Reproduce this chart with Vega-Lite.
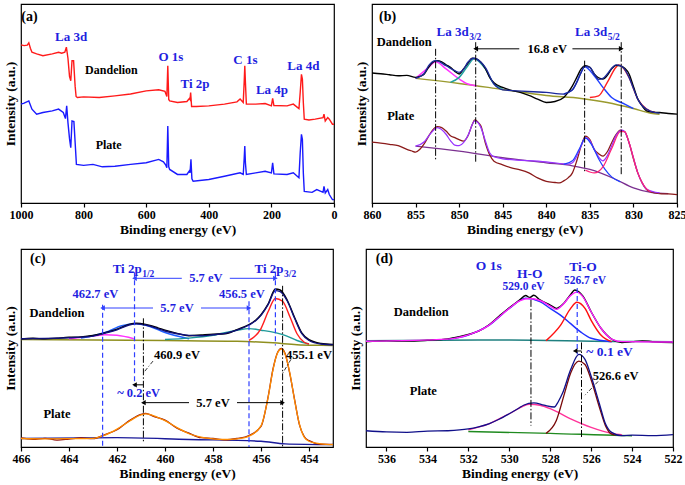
{
"$schema": "https://vega.github.io/schema/vega-lite/v6.json",
"background": "white",
"padding": {"left": 2, "top": 3, "right": 2, "bottom": 0},
"config": {
  "font": "Liberation Serif",
  "view": {"stroke": "black", "strokeWidth": 1.2},
  "axis": {"labelFont": "Liberation Serif", "labelFontWeight": "bold", "labelFontSize": 12, "labelColor": "black", "titleFont": "Liberation Serif", "titleFontWeight": "bold", "titleFontSize": 13.5, "titleColor": "black", "grid": false, "domain": false, "tickColor": "black", "tickWidth": 1.2, "labelFlush": false, "labelOverlap": false},
  "text": {"font": "Liberation Serif", "fontWeight": "bold", "baseline": "middle"}
},
"datasets": {
  "a": [
    {"x":1000,"y":78.7,"s":"D"},{"x":990,"y":78.3,"s":"D"},{"x":980,"y":78.5,"s":"D"},{"x":975,"y":79.7,"s":"D"},{"x":970,"y":77,"s":"D"},{"x":965,"y":75,"s":"D"},{"x":950,"y":74.2,"s":"D"},{"x":930,"y":73.3,"s":"D"},{"x":900,"y":74.2,"s":"D"},{"x":880,"y":75,"s":"D"},{"x":870,"y":74.5,"s":"D"},{"x":860,"y":75,"s":"D"},{"x":855,"y":77.5,"s":"D"},{"x":850,"y":72,"s":"D"},{"x":845,"y":63,"s":"D"},{"x":841,"y":60.8,"s":"D"},{"x":837,"y":70.8,"s":"D"},{"x":832,"y":70.8,"s":"D"},{"x":827,"y":58,"s":"D"},{"x":824,"y":53,"s":"D"},{"x":820,"y":52.5,"s":"D"},{"x":800,"y":52.8,"s":"D"},{"x":750,"y":52.5,"s":"D"},{"x":700,"y":53.3,"s":"D"},{"x":650,"y":54.2,"s":"D"},{"x":600,"y":55.8,"s":"D"},{"x":560,"y":56.3,"s":"D"},{"x":540,"y":55.5,"s":"D"},{"x":534,"y":53,"s":"D"},{"x":531,"y":68.3,"s":"D"},{"x":528,"y":51.5,"s":"D"},{"x":525,"y":50.8,"s":"D"},{"x":500,"y":50,"s":"D"},{"x":470,"y":50.5,"s":"D"},{"x":462,"y":52,"s":"D"},{"x":460,"y":51.5,"s":"D"},{"x":458,"y":55,"s":"D"},{"x":455,"y":48,"s":"D"},{"x":440,"y":48,"s":"D"},{"x":400,"y":48.3,"s":"D"},{"x":350,"y":49.2,"s":"D"},{"x":310,"y":50.3,"s":"D"},{"x":300,"y":51.7,"s":"D"},{"x":290,"y":50,"s":"D"},{"x":287,"y":60,"s":"D"},{"x":285,"y":68.3,"s":"D"},{"x":283,"y":60,"s":"D"},{"x":280,"y":49.2,"s":"D"},{"x":250,"y":49.2,"s":"D"},{"x":220,"y":49.5,"s":"D"},{"x":200,"y":48.3,"s":"D"},{"x":196,"y":52,"s":"D"},{"x":192,"y":48.5,"s":"D"},{"x":150,"y":48.3,"s":"D"},{"x":130,"y":49.2,"s":"D"},{"x":112,"y":47,"s":"D"},{"x":108,"y":55,"s":"D"},{"x":104,"y":64,"s":"D"},{"x":101,"y":61.7,"s":"D"},{"x":98,"y":50,"s":"D"},{"x":95,"y":41.7,"s":"D"},{"x":80,"y":41.3,"s":"D"},{"x":60,"y":41.7,"s":"D"},{"x":35,"y":42.5,"s":"D"},{"x":32,"y":44.2,"s":"D"},{"x":28,"y":40.8,"s":"D"},{"x":20,"y":42.5,"s":"D"},{"x":15,"y":41.7,"s":"D"},{"x":5,"y":39.2,"s":"D"},{"x":0,"y":39.2,"s":"D"},
    {"x":1000,"y":49.2,"s":"P"},{"x":990,"y":49.7,"s":"P"},{"x":975,"y":50.8,"s":"P"},{"x":965,"y":46.7,"s":"P"},{"x":950,"y":44.2,"s":"P"},{"x":930,"y":45,"s":"P"},{"x":900,"y":45.8,"s":"P"},{"x":880,"y":46.7,"s":"P"},{"x":865,"y":45,"s":"P"},{"x":858,"y":42,"s":"P"},{"x":854,"y":48.3,"s":"P"},{"x":850,"y":40,"s":"P"},{"x":845,"y":32,"s":"P"},{"x":841,"y":27.5,"s":"P"},{"x":837,"y":40.8,"s":"P"},{"x":831,"y":40.5,"s":"P"},{"x":827,"y":30,"s":"P"},{"x":823,"y":19.2,"s":"P"},{"x":800,"y":18.7,"s":"P"},{"x":770,"y":19.2,"s":"P"},{"x":740,"y":18,"s":"P"},{"x":700,"y":18.3,"s":"P"},{"x":650,"y":19.2,"s":"P"},{"x":600,"y":20,"s":"P"},{"x":560,"y":21.7,"s":"P"},{"x":545,"y":20.5,"s":"P"},{"x":538,"y":19,"s":"P"},{"x":534,"y":17.5,"s":"P"},{"x":531,"y":38.3,"s":"P"},{"x":528,"y":18,"s":"P"},{"x":525,"y":16.7,"s":"P"},{"x":500,"y":14.2,"s":"P"},{"x":470,"y":14.2,"s":"P"},{"x":462,"y":16,"s":"P"},{"x":460,"y":15,"s":"P"},{"x":457,"y":21.7,"s":"P"},{"x":454,"y":12,"s":"P"},{"x":450,"y":10.8,"s":"P"},{"x":400,"y":11.7,"s":"P"},{"x":350,"y":13.3,"s":"P"},{"x":300,"y":15,"s":"P"},{"x":290,"y":14.2,"s":"P"},{"x":287,"y":22,"s":"P"},{"x":285,"y":28.3,"s":"P"},{"x":283,"y":20,"s":"P"},{"x":280,"y":14.2,"s":"P"},{"x":250,"y":15,"s":"P"},{"x":220,"y":15.8,"s":"P"},{"x":200,"y":15,"s":"P"},{"x":196,"y":20,"s":"P"},{"x":192,"y":14.5,"s":"P"},{"x":150,"y":14.2,"s":"P"},{"x":130,"y":15,"s":"P"},{"x":112,"y":12.5,"s":"P"},{"x":108,"y":25,"s":"P"},{"x":104,"y":34.2,"s":"P"},{"x":101,"y":31.7,"s":"P"},{"x":98,"y":15,"s":"P"},{"x":95,"y":5.8,"s":"P"},{"x":70,"y":5.3,"s":"P"},{"x":55,"y":6.7,"s":"P"},{"x":35,"y":5.3,"s":"P"},{"x":32,"y":8.3,"s":"P"},{"x":28,"y":5,"s":"P"},{"x":20,"y":6.7,"s":"P"},{"x":15,"y":4.2,"s":"P"},{"x":5,"y":1.7,"s":"P"},{"x":0,"y":1.7,"s":"P"}
  ],
  "at": [
    {"x":973,"y":92.5,"t":"(a)","k":"p"},
    {"x":840,"y":82.5,"t":"La 3d","k":"b"},
    {"x":521,"y":72.5,"t":"O 1s","k":"b"},
    {"x":444,"y":59,"t":"Ti 2p","k":"b"},
    {"x":283,"y":71,"t":"C 1s","k":"b"},
    {"x":198,"y":56,"t":"La 4p","k":"b"},
    {"x":98,"y":68,"t":"La 4d","k":"b"},
    {"x":711,"y":66,"t":"Dandelion","k":"k"},
    {"x":720,"y":28.7,"t":"Plate","k":"k"}
  ],
  "b": [
    {"x":855,"y":62,"s":"b1"},{"x":850,"y":59.5,"s":"b1"},{"x":845,"y":56.5,"s":"b1"},{"x":840,"y":53.5,"s":"b1"},{"x":836,"y":52,"s":"b1"},{"x":833,"y":50,"s":"b1"},{"x":830,"y":47,"s":"b1"},{"x":828,"y":44.7,"s":"b1"},{"x":827,"y":44.2,"s":"b1"},
    {"x":855,"y":62,"s":"b2"},{"x":853.5,"y":67.5,"s":"b2"},{"x":852.7,"y":70.3,"s":"b2"},{"x":851.5,"y":66.7,"s":"b2"},{"x":850,"y":61.7,"s":"b2"},{"x":849,"y":59.2,"s":"b2"},{"x":848,"y":58.3,"s":"b2"},
    {"x":851,"y":60,"s":"b3"},{"x":850,"y":62.5,"s":"b3"},{"x":849,"y":68.3,"s":"b3"},{"x":848.3,"y":71.7,"s":"b3"},{"x":847,"y":66.7,"s":"b3"},{"x":846,"y":59.2,"s":"b3"},{"x":845,"y":57,"s":"b3"},
    {"x":838,"y":54.2,"s":"b4"},{"x":837,"y":56.3,"s":"b4"},{"x":836,"y":65,"s":"b4"},{"x":835.6,"y":67.8,"s":"b4"},{"x":834.5,"y":63.3,"s":"b4"},{"x":833.5,"y":57.5,"s":"b4"},{"x":832.5,"y":52.5,"s":"b4"},{"x":831,"y":49.2,"s":"b4"},{"x":830,"y":47,"s":"b4"},
    {"x":835,"y":52.5,"s":"b5"},{"x":834,"y":53.3,"s":"b5"},{"x":833,"y":60,"s":"b5"},{"x":832,"y":67.5,"s":"b5"},{"x":831.7,"y":68.7,"s":"b5"},{"x":830.5,"y":62.5,"s":"b5"},{"x":829.5,"y":51.7,"s":"b5"},{"x":828.5,"y":46.7,"s":"b5"},{"x":827.5,"y":45,"s":"b5"},
    {"x":860,"y":64.7,"s":"b6"},{"x":859,"y":64.3,"s":"b6"},{"x":858,"y":63.8,"s":"b6"},{"x":857,"y":63.3,"s":"b6"},{"x":856,"y":63.5,"s":"b6"},{"x":855,"y":62.5,"s":"b6"},{"x":854.5,"y":63,"s":"b6"},{"x":854,"y":64.2,"s":"b6"},{"x":853.5,"y":67.5,"s":"b6"},{"x":853,"y":70,"s":"b6"},{"x":852.5,"y":70.8,"s":"b6"},{"x":852,"y":70.2,"s":"b6"},{"x":851.5,"y":68.8,"s":"b6"},{"x":851,"y":67.5,"s":"b6"},{"x":850.5,"y":65.5,"s":"b6"},{"x":850,"y":64.2,"s":"b6"},{"x":849.5,"y":66.7,"s":"b6"},{"x":849,"y":69.5,"s":"b6"},{"x":848.5,"y":72,"s":"b6"},{"x":848,"y":71.7,"s":"b6"},{"x":847.5,"y":70,"s":"b6"},{"x":847,"y":67,"s":"b6"},{"x":846.5,"y":62.5,"s":"b6"},{"x":846,"y":59.8,"s":"b6"},{"x":845,"y":57.5,"s":"b6"},{"x":844,"y":56,"s":"b6"},{"x":843,"y":55,"s":"b6"},{"x":842,"y":53.5,"s":"b6"},{"x":841,"y":51.7,"s":"b6"},{"x":840,"y":50,"s":"b6"},{"x":839,"y":50.5,"s":"b6"},{"x":838,"y":52.5,"s":"b6"},{"x":837.5,"y":55,"s":"b6"},{"x":837,"y":58.3,"s":"b6"},{"x":836.5,"y":62.5,"s":"b6"},{"x":836,"y":66.7,"s":"b6"},{"x":835.5,"y":68.3,"s":"b6"},{"x":835,"y":67.5,"s":"b6"},{"x":834.5,"y":64.2,"s":"b6"},{"x":834,"y":62.3,"s":"b6"},{"x":833.5,"y":61.7,"s":"b6"},{"x":833,"y":63.5,"s":"b6"},{"x":832.5,"y":66.7,"s":"b6"},{"x":832,"y":68.5,"s":"b6"},{"x":831.5,"y":68.3,"s":"b6"},{"x":831,"y":67,"s":"b6"},{"x":830.5,"y":64.2,"s":"b6"},{"x":830,"y":58,"s":"b6"},{"x":829.5,"y":51.7,"s":"b6"},{"x":829,"y":48.3,"s":"b6"},{"x":828.5,"y":45.8,"s":"b6"},{"x":828,"y":45.3,"s":"b6"},{"x":827,"y":45,"s":"b6"},{"x":826,"y":44.5,"s":"b6"},{"x":825,"y":44.2,"s":"b6"},
    {"x":855,"y":62,"s":"b7"},{"x":854,"y":64.5,"s":"b7"},{"x":853.5,"y":68.3,"s":"b7"},{"x":852.7,"y":70.8,"s":"b7"},{"x":851.5,"y":68.3,"s":"b7"},{"x":850.5,"y":65.8,"s":"b7"},{"x":850,"y":65,"s":"b7"},{"x":849.5,"y":66.5,"s":"b7"},{"x":849,"y":70,"s":"b7"},{"x":848.3,"y":72,"s":"b7"},{"x":847.5,"y":70,"s":"b7"},{"x":847,"y":67.5,"s":"b7"},{"x":846,"y":59.2,"s":"b7"},{"x":845.5,"y":57.2,"s":"b7"},{"x":845,"y":56.3,"s":"b7"},{"x":840,"y":55,"s":"b7"},{"x":838,"y":54.2,"s":"b7"},{"x":837.5,"y":55,"s":"b7"},{"x":837,"y":56.3,"s":"b7"},{"x":836.5,"y":60,"s":"b7"},{"x":836,"y":65,"s":"b7"},{"x":835.6,"y":68,"s":"b7"},{"x":835,"y":67.5,"s":"b7"},{"x":834.5,"y":64.2,"s":"b7"},{"x":834,"y":61.5,"s":"b7"},{"x":833.5,"y":62,"s":"b7"},{"x":833,"y":64.2,"s":"b7"},{"x":832.5,"y":67,"s":"b7"},{"x":832,"y":68.7,"s":"b7"},{"x":831.5,"y":68.3,"s":"b7"},{"x":831,"y":66.5,"s":"b7"},{"x":830.5,"y":62.5,"s":"b7"},{"x":830,"y":57,"s":"b7"},{"x":829.5,"y":51.7,"s":"b7"},{"x":829,"y":48.5,"s":"b7"},{"x":828.5,"y":46.7,"s":"b7"},{"x":827.5,"y":45,"s":"b7"},{"x":827,"y":44.7,"s":"b7"},
    {"x":855,"y":28.3,"s":"b8"},{"x":850,"y":25.8,"s":"b8"},{"x":845,"y":22.5,"s":"b8"},{"x":840,"y":20,"s":"b8"},{"x":837,"y":18.5,"s":"b8"},{"x":835,"y":16.7,"s":"b8"},{"x":832,"y":11.7,"s":"b8"},{"x":830,"y":7.5,"s":"b8"},{"x":828,"y":5.3,"s":"b8"},{"x":826,"y":4.7,"s":"b8"},
    {"x":860,"y":30.3,"s":"b9"},{"x":859,"y":29.8,"s":"b9"},{"x":858,"y":29.2,"s":"b9"},{"x":857,"y":28.5,"s":"b9"},{"x":856,"y":26.7,"s":"b9"},{"x":855.5,"y":26,"s":"b9"},{"x":855,"y":25.3,"s":"b9"},{"x":854.5,"y":26.7,"s":"b9"},{"x":854,"y":29.5,"s":"b9"},{"x":853.5,"y":33.3,"s":"b9"},{"x":853,"y":36.5,"s":"b9"},{"x":852.5,"y":38,"s":"b9"},{"x":852,"y":37.5,"s":"b9"},{"x":851.5,"y":35.8,"s":"b9"},{"x":851,"y":33.5,"s":"b9"},{"x":850.5,"y":32.5,"s":"b9"},{"x":850,"y":31.5,"s":"b9"},{"x":849.5,"y":30.8,"s":"b9"},{"x":849,"y":33.3,"s":"b9"},{"x":848.5,"y":39,"s":"b9"},{"x":848.2,"y":41.3,"s":"b9"},{"x":847.8,"y":40,"s":"b9"},{"x":847.5,"y":38.3,"s":"b9"},{"x":847,"y":30,"s":"b9"},{"x":846.5,"y":24,"s":"b9"},{"x":846,"y":20.8,"s":"b9"},{"x":845,"y":19,"s":"b9"},{"x":844,"y":17.5,"s":"b9"},{"x":843,"y":16.5,"s":"b9"},{"x":842,"y":15,"s":"b9"},{"x":841,"y":12.5,"s":"b9"},{"x":840,"y":10.8,"s":"b9"},{"x":839,"y":10.2,"s":"b9"},{"x":838.5,"y":10,"s":"b9"},{"x":838,"y":11,"s":"b9"},{"x":837.5,"y":12.5,"s":"b9"},{"x":837,"y":15,"s":"b9"},{"x":836.5,"y":21,"s":"b9"},{"x":836,"y":28.3,"s":"b9"},{"x":835.5,"y":33.3,"s":"b9"},{"x":835,"y":31.5,"s":"b9"},{"x":834.5,"y":26.7,"s":"b9"},{"x":834,"y":24.5,"s":"b9"},{"x":833.5,"y":23.3,"s":"b9"},{"x":833,"y":25.5,"s":"b9"},{"x":832.5,"y":30,"s":"b9"},{"x":832,"y":34,"s":"b9"},{"x":831.5,"y":36.3,"s":"b9"},{"x":831,"y":35.5,"s":"b9"},{"x":830.5,"y":30,"s":"b9"},{"x":830,"y":22,"s":"b9"},{"x":829.5,"y":15,"s":"b9"},{"x":829,"y":10,"s":"b9"},{"x":828.5,"y":6.7,"s":"b9"},{"x":828,"y":5.5,"s":"b9"},{"x":827,"y":4.7,"s":"b9"},{"x":826,"y":4.5,"s":"b9"},{"x":825,"y":4.2,"s":"b9"},
    {"x":855,"y":28.3,"s":"bA"},{"x":854,"y":30.5,"s":"bA"},{"x":853.5,"y":33.3,"s":"bA"},{"x":852.5,"y":37.5,"s":"bA"},{"x":851.5,"y":34.2,"s":"bA"},{"x":851,"y":31,"s":"bA"},{"x":850.5,"y":28.8,"s":"bA"},{"x":850,"y":28.5,"s":"bA"},{"x":849.5,"y":30,"s":"bA"},{"x":849,"y":33.5,"s":"bA"},{"x":848.2,"y":40.8,"s":"bA"},{"x":847.5,"y":37.5,"s":"bA"},{"x":847,"y":31,"s":"bA"},{"x":846.5,"y":25,"s":"bA"},{"x":846,"y":23,"s":"bA"},{"x":845,"y":22,"s":"bA"},{"x":840,"y":20.5,"s":"bA"},{"x":838,"y":19.5,"s":"bA"},{"x":837.5,"y":19.3,"s":"bA"},{"x":837,"y":20,"s":"bA"},{"x":836.5,"y":23.3,"s":"bA"},{"x":836,"y":28.5,"s":"bA"},{"x":835.5,"y":32.5,"s":"bA"},{"x":835,"y":31,"s":"bA"},{"x":834.5,"y":26.7,"s":"bA"},{"x":834,"y":23,"s":"bA"},{"x":833.5,"y":21,"s":"bA"},{"x":833,"y":23.5,"s":"bA"},{"x":832.5,"y":28.3,"s":"bA"},{"x":832,"y":33.5,"s":"bA"},{"x":831.3,"y":36.3,"s":"bA"},{"x":831,"y":35.5,"s":"bA"},{"x":830.5,"y":30,"s":"bA"},{"x":830,"y":22.5,"s":"bA"},{"x":829.5,"y":15,"s":"bA"},{"x":829,"y":10,"s":"bA"},{"x":828.5,"y":7,"s":"bA"},{"x":827,"y":5,"s":"bA"},
    {"x":838,"y":19.2,"s":"bB"},{"x":837,"y":21,"s":"bB"},{"x":836.2,"y":27,"s":"bB"},{"x":835.5,"y":32.3,"s":"bB"},{"x":834.8,"y":29,"s":"bB"},{"x":834,"y":22,"s":"bB"},{"x":833.3,"y":17,"s":"bB"},{"x":832.5,"y":13,"s":"bB"},{"x":831.5,"y":10.5,"s":"bB"},
    {"x":835.5,"y":16.3,"s":"bC"},{"x":834.5,"y":15,"s":"bC"},{"x":833.5,"y":18,"s":"bC"},{"x":832.5,"y":27,"s":"bC"},{"x":831.5,"y":35.5,"s":"bC"},{"x":831,"y":35.5,"s":"bC"},{"x":830.5,"y":30,"s":"bC"},{"x":829.5,"y":15,"s":"bC"},{"x":828.5,"y":7,"s":"bC"},{"x":828,"y":5.5,"s":"bC"}
  ],
  "bv": [
    {"x":852.7,"y":76.7,"y2":20.8},{"x":848.1,"y":80,"y2":20},{"x":835.6,"y":70.8,"y2":15},{"x":831.4,"y":80,"y2":14.2}
  ],
  "br": [
    {"x":843.1,"x2":848.1,"y":76.7,"d":"L"},{"x":837.0,"x2":831.4,"y":76.7,"d":"R"}
  ],
  "bt": [
    {"x":858.2,"y":92.5,"t":"(b)","k":"p"},
    {"x":856.3,"y":80,"t":"Dandelion","k":"k"},
    {"x":856.7,"y":43.3,"t":"Plate","k":"k"},
    {"x":839.9,"y":76.7,"t":"16.8 eV","k":"k"},
    {"x":852.6,"y":85.3,"t":"La 3d","k":"bl"},
    {"x":848.85,"y":82.8,"t":"3/2","k":"bs"},
    {"x":836.7,"y":85.3,"t":"La 3d","k":"bl"},
    {"x":832.95,"y":82.8,"t":"5/2","k":"bs"}
  ],
  "tip": [
    {"x":466,"y":54.3,"s":"c1"},{"x":460,"y":53.8,"s":"c1"},{"x":457,"y":53.4,"s":"c1"},{"x":455.5,"y":52.6,"s":"c1"},{"x":454.5,"y":51.7,"s":"c1"},{"x":453.5,"y":51.4,"s":"c1"},{"x":453,"y":51.3,"s":"c1"},
    {"x":464,"y":54.7,"s":"c2"},{"x":463,"y":56,"s":"c2"},{"x":462.5,"y":56.7,"s":"c2"},{"x":462,"y":56.4,"s":"c2"},{"x":461.3,"y":54.7,"s":"c2"},
    {"x":463.5,"y":55,"s":"c3"},{"x":462.5,"y":57.8,"s":"c3"},{"x":461.8,"y":61.2,"s":"c3"},{"x":461.2,"y":62.2,"s":"c3"},{"x":460.6,"y":60.7,"s":"c3"},{"x":460,"y":57.8,"s":"c3"},{"x":459,"y":54.7,"s":"c3"},
    {"x":460,"y":54.3,"s":"c4"},{"x":459,"y":55,"s":"c4"},{"x":458,"y":56.4,"s":"c4"},{"x":457,"y":59,"s":"c4"},{"x":456.5,"y":59.8,"s":"c4"},{"x":456,"y":59,"s":"c4"},{"x":455,"y":56.4,"s":"c4"},{"x":454.5,"y":53.8,"s":"c4"},{"x":454,"y":52,"s":"c4"},
    {"x":456.5,"y":53.8,"s":"c5"},{"x":456,"y":59.8,"s":"c5"},{"x":455.7,"y":68.4,"s":"c5"},{"x":455.4,"y":75,"s":"c5"},{"x":455.1,"y":73.6,"s":"c5"},{"x":454.8,"y":65.9,"s":"c5"},{"x":454.5,"y":57.2,"s":"c5"},{"x":454.2,"y":52.9,"s":"c5"},{"x":454,"y":52,"s":"c5"},
    {"x":466,"y":54.5,"s":"c6"},{"x":465.5,"y":54.9,"s":"c6"},{"x":465,"y":54.6,"s":"c6"},{"x":464.5,"y":55,"s":"c6"},{"x":464,"y":55.4,"s":"c6"},{"x":463.5,"y":55.6,"s":"c6"},{"x":463,"y":56.3,"s":"c6"},{"x":462.5,"y":57.7,"s":"c6"},{"x":462,"y":59.5,"s":"c6"},{"x":461.5,"y":61.9,"s":"c6"},{"x":461.2,"y":62.5,"s":"c6"},{"x":460.8,"y":61.9,"s":"c6"},{"x":460.3,"y":60.2,"s":"c6"},{"x":460,"y":59,"s":"c6"},{"x":459.5,"y":57.4,"s":"c6"},{"x":459,"y":56.2,"s":"c6"},{"x":458.5,"y":56.6,"s":"c6"},{"x":458,"y":57,"s":"c6"},{"x":457.5,"y":57.2,"s":"c6"},{"x":457,"y":59.3,"s":"c6"},{"x":456.5,"y":61.8,"s":"c6"},{"x":456.2,"y":64.3,"s":"c6"},{"x":456,"y":66.8,"s":"c6"},{"x":455.7,"y":72.3,"s":"c6"},{"x":455.4,"y":79.8,"s":"c6"},{"x":455.2,"y":79.3,"s":"c6"},{"x":454.9,"y":74,"s":"c6"},{"x":454.6,"y":65.4,"s":"c6"},{"x":454.3,"y":57.6,"s":"c6"},{"x":454,"y":54.2,"s":"c6"},{"x":453.5,"y":52.3,"s":"c6"},{"x":453,"y":51.8,"s":"c6"},
    {"x":466,"y":54.7,"s":"c7"},{"x":465,"y":54.8,"s":"c7"},{"x":464,"y":55.2,"s":"c7"},{"x":463,"y":56,"s":"c7"},{"x":462.5,"y":57.5,"s":"c7"},{"x":462,"y":59.2,"s":"c7"},{"x":461.5,"y":61.6,"s":"c7"},{"x":461.2,"y":62.2,"s":"c7"},{"x":460.8,"y":61.6,"s":"c7"},{"x":460.3,"y":59.8,"s":"c7"},{"x":460,"y":58.6,"s":"c7"},{"x":459.5,"y":57.2,"s":"c7"},{"x":459,"y":56.4,"s":"c7"},{"x":458.5,"y":56.2,"s":"c7"},{"x":458,"y":56.7,"s":"c7"},{"x":457.5,"y":57.4,"s":"c7"},{"x":457,"y":59,"s":"c7"},{"x":456.5,"y":61.6,"s":"c7"},{"x":456.2,"y":64,"s":"c7"},{"x":456,"y":66.5,"s":"c7"},{"x":455.7,"y":72,"s":"c7"},{"x":455.4,"y":79,"s":"c7"},{"x":455.2,"y":78.5,"s":"c7"},{"x":454.9,"y":73.6,"s":"c7"},{"x":454.6,"y":65,"s":"c7"},{"x":454.3,"y":57.2,"s":"c7"},{"x":454,"y":53.8,"s":"c7"},{"x":453.5,"y":52,"s":"c7"},{"x":453,"y":51.6,"s":"c7"},
    {"x":466,"y":4.3,"s":"c8"},{"x":462,"y":4.7,"s":"c8"},{"x":459,"y":3.8,"s":"c8"},{"x":456,"y":2.9,"s":"c8"},{"x":455,"y":1.6,"s":"c8"},{"x":453,"y":1.2,"s":"c8"},
    {"x":466,"y":4.6,"s":"c9"},{"x":465.5,"y":3.9,"s":"c9"},{"x":465,"y":4.4,"s":"c9"},{"x":464.5,"y":3.5,"s":"c9"},{"x":464,"y":4,"s":"c9"},{"x":463.5,"y":4.6,"s":"c9"},{"x":463,"y":4.2,"s":"c9"},{"x":462.5,"y":6.3,"s":"c9"},{"x":462,"y":8.7,"s":"c9"},{"x":461.5,"y":13.2,"s":"c9"},{"x":461,"y":16.5,"s":"c9"},{"x":460.8,"y":17,"s":"c9"},{"x":460.5,"y":15.6,"s":"c9"},{"x":460,"y":13.6,"s":"c9"},{"x":459.5,"y":9.5,"s":"c9"},{"x":459,"y":7,"s":"c9"},{"x":458.5,"y":4.7,"s":"c9"},{"x":458,"y":4.3,"s":"c9"},{"x":457.5,"y":3.6,"s":"c9"},{"x":457,"y":4.3,"s":"c9"},{"x":456.5,"y":5.8,"s":"c9"},{"x":456,"y":10.4,"s":"c9"},{"x":455.7,"y":25.6,"s":"c9"},{"x":455.5,"y":39.4,"s":"c9"},{"x":455.3,"y":48,"s":"c9"},{"x":455.15,"y":49.8,"s":"c9"},{"x":455,"y":47.3,"s":"c9"},{"x":454.8,"y":37.1,"s":"c9"},{"x":454.6,"y":23.9,"s":"c9"},{"x":454.4,"y":11.3,"s":"c9"},{"x":454.2,"y":5.3,"s":"c9"},{"x":454,"y":3.2,"s":"c9"},{"x":453.5,"y":1.4,"s":"c9"},{"x":453,"y":1.3,"s":"c9"},
    {"x":466,"y":4.3,"s":"cA"},{"x":465,"y":4.1,"s":"cA"},{"x":464,"y":4.2,"s":"cA"},{"x":463,"y":4.4,"s":"cA"},{"x":462.5,"y":6,"s":"cA"},{"x":462,"y":9,"s":"cA"},{"x":461.5,"y":12.9,"s":"cA"},{"x":461,"y":16.2,"s":"cA"},{"x":460.8,"y":16.7,"s":"cA"},{"x":460.5,"y":15.9,"s":"cA"},{"x":460,"y":13.3,"s":"cA"},{"x":459.5,"y":9.8,"s":"cA"},{"x":459,"y":6.7,"s":"cA"},{"x":458.5,"y":5,"s":"cA"},{"x":458,"y":4.1,"s":"cA"},{"x":457.5,"y":3.8,"s":"cA"},{"x":457,"y":4.1,"s":"cA"},{"x":456.5,"y":5.5,"s":"cA"},{"x":456,"y":10.7,"s":"cA"},{"x":455.7,"y":25.3,"s":"cA"},{"x":455.5,"y":39.1,"s":"cA"},{"x":455.3,"y":47.8,"s":"cA"},{"x":455.15,"y":49.5,"s":"cA"},{"x":455,"y":47,"s":"cA"},{"x":454.8,"y":37.4,"s":"cA"},{"x":454.6,"y":23.6,"s":"cA"},{"x":454.4,"y":11.6,"s":"cA"},{"x":454.2,"y":5,"s":"cA"},{"x":454,"y":2.9,"s":"cA"},{"x":453.5,"y":1.6,"s":"cA"},{"x":453,"y":1.2,"s":"cA"}
  ],
  "cv": [
    {"x":462.6,"y":71.9,"y2":0,"k":"b"},{"x":461.27,"y":88.3,"y2":30.5,"k":"b"},{"x":456.5,"y":73.6,"y2":0,"k":"b"},{"x":455.4,"y":88.3,"y2":51.2,"k":"b"},
    {"x":460.9,"y":65,"y2":2.1,"k":"k"},{"x":455.1,"y":81.4,"y2":0,"k":"k"}
  ],
  "cp": [
    {"x":460.5,"y":43.4,"x2":460.9,"y2":37.4},{"x":454.75,"y":44.3,"x2":455.09,"y2":37.4}
  ],
  "cr": [
    {"x":459.3,"x2":461.27,"y":85.2,"d":"L","k":"b"},{"x":457.3,"x2":455.4,"y":85.2,"d":"R","k":"b"},
    {"x":460.5,"x2":462.6,"y":70.2,"d":"L","k":"b"},{"x":458.5,"x2":456.5,"y":70.2,"d":"R","k":"b"},
    {"x":459.0,"x2":460.9,"y":22.4,"d":"L","k":"k"},{"x":457.0,"x2":455.1,"y":22.4,"d":"R","k":"k"},
    {"x":460.9,"x2":461.27,"y":31.4,"d":"L","k":"k"}
  ],
  "ct": [
    {"x":465.3,"y":95,"t":"(c)","k":"p"},
    {"x":464.5,"y":67.6,"t":"Dandelion","k":"k"},
    {"x":464.5,"y":16.7,"t":"Plate","k":"k"},
    {"x":462.18,"y":90,"t":"Ti 2p","k":"bl"},
    {"x":460.95,"y":87.6,"t":"1/2","k":"bs"},
    {"x":456.27,"y":90,"t":"Ti 2p","k":"bl"},
    {"x":455.04,"y":87.6,"t":"3/2","k":"bs"},
    {"x":458.3,"y":85.2,"t":"5.7 eV","k":"b"},
    {"x":459.5,"y":70.2,"t":"5.7 eV","k":"b"},
    {"x":458.0,"y":22.4,"t":"5.7 eV","k":"k"},
    {"x":462.9,"y":77.1,"t":"462.7 eV","k":"b"},
    {"x":456.8,"y":77.1,"t":"456.5 eV","k":"b"},
    {"x":459.5,"y":46.4,"t":"460.9 eV","k":"k"},
    {"x":454.0,"y":46.4,"t":"455.1 eV","k":"k"},
    {"x":461.1,"y":27.4,"t":"~ 0.2 eV","k":"b"}
  ],
  "d": [
    {"x":537,"y":53.7,"s":"d1"},{"x":530,"y":54,"s":"d1"},{"x":525,"y":53.3,"s":"d1"},{"x":522,"y":53.2,"s":"d1"},
    {"x":533,"y":54.4,"s":"d2"},{"x":532,"y":56.6,"s":"d2"},{"x":531,"y":61.4,"s":"d2"},{"x":530,"y":70,"s":"d2"},{"x":529.2,"y":75.1,"s":"d2"},{"x":528.5,"y":73.4,"s":"d2"},{"x":528,"y":70,"s":"d2"},{"x":527.5,"y":66.6,"s":"d2"},{"x":527,"y":62.3,"s":"d2"},{"x":526.5,"y":58,"s":"d2"},{"x":526,"y":54.9,"s":"d2"},{"x":525,"y":53.2,"s":"d2"},
    {"x":528.2,"y":53.7,"s":"d3"},{"x":527.5,"y":61.4,"s":"d3"},{"x":527,"y":70,"s":"d3"},{"x":526.7,"y":73.1,"s":"d3"},{"x":526.3,"y":70,"s":"d3"},{"x":526,"y":64,"s":"d3"},{"x":525.5,"y":56.3,"s":"d3"},{"x":525,"y":53.2,"s":"d3"},
    {"x":537,"y":53.2,"s":"d4"},{"x":536,"y":53.6,"s":"d4"},{"x":535,"y":53.5,"s":"d4"},{"x":534,"y":53.9,"s":"d4"},{"x":533,"y":54.6,"s":"d4"},{"x":532,"y":56.8,"s":"d4"},{"x":531.5,"y":58.5,"s":"d4"},{"x":531,"y":61.6,"s":"d4"},{"x":530.5,"y":66,"s":"d4"},{"x":530,"y":70.3,"s":"d4"},{"x":529.5,"y":74.2,"s":"d4"},{"x":529.2,"y":76.5,"s":"d4"},{"x":529,"y":75.5,"s":"d4"},{"x":528.8,"y":76.6,"s":"d4"},{"x":528.5,"y":74.3,"s":"d4"},{"x":528,"y":71.7,"s":"d4"},{"x":527.7,"y":70,"s":"d4"},{"x":527.4,"y":71.9,"s":"d4"},{"x":527,"y":77,"s":"d4"},{"x":526.8,"y":79.3,"s":"d4"},{"x":526.6,"y":78.4,"s":"d4"},{"x":526.4,"y":76.2,"s":"d4"},{"x":526,"y":68.3,"s":"d4"},{"x":525.5,"y":59.7,"s":"d4"},{"x":525,"y":54.5,"s":"d4"},{"x":524.5,"y":52.8,"s":"d4"},{"x":524,"y":53.2,"s":"d4"},{"x":523.5,"y":53.6,"s":"d4"},{"x":523,"y":53.2,"s":"d4"},{"x":522,"y":52.8,"s":"d4"},
    {"x":537,"y":53.4,"s":"d5"},{"x":533,"y":54.5,"s":"d5"},{"x":532,"y":56.6,"s":"d5"},{"x":531,"y":61.4,"s":"d5"},{"x":530.5,"y":65.7,"s":"d5"},{"x":530,"y":70,"s":"d5"},{"x":529.5,"y":73.8,"s":"d5"},{"x":529,"y":75,"s":"d5"},{"x":528.5,"y":74,"s":"d5"},{"x":528,"y":71.2,"s":"d5"},{"x":527.7,"y":69.5,"s":"d5"},{"x":527.4,"y":71.7,"s":"d5"},{"x":527,"y":76.5,"s":"d5"},{"x":526.7,"y":78.2,"s":"d5"},{"x":526.4,"y":75.8,"s":"d5"},{"x":526,"y":68.3,"s":"d5"},{"x":525.5,"y":59.7,"s":"d5"},{"x":525,"y":54.5,"s":"d5"},{"x":524.5,"y":53.2,"s":"d5"},{"x":522,"y":53,"s":"d5"},
    {"x":532,"y":7.8,"s":"d6"},{"x":528,"y":6.9,"s":"d6"},{"x":524.5,"y":5.8,"s":"d6"},{"x":524,"y":5.7,"s":"d6"},
    {"x":532,"y":8.7,"s":"d7"},{"x":531,"y":11.7,"s":"d7"},{"x":530,"y":16.8,"s":"d7"},{"x":529,"y":21.6,"s":"d7"},{"x":528.5,"y":21.1,"s":"d7"},{"x":528,"y":19.4,"s":"d7"},{"x":527,"y":14.2,"s":"d7"},{"x":526,"y":9.9,"s":"d7"},{"x":525,"y":6.9,"s":"d7"},{"x":524.5,"y":6.2,"s":"d7"},
    {"x":528.2,"y":6.9,"s":"d8"},{"x":527.7,"y":13.4,"s":"d8"},{"x":527.3,"y":27.1,"s":"d8"},{"x":527,"y":37.4,"s":"d8"},{"x":526.6,"y":43.4,"s":"d8"},{"x":526.3,"y":41.7,"s":"d8"},{"x":526,"y":34,"s":"d8"},{"x":525.6,"y":20.2,"s":"d8"},{"x":525.3,"y":10.8,"s":"d8"},{"x":525,"y":6.5,"s":"d8"},{"x":524.8,"y":6,"s":"d8"},
    {"x":537,"y":8.2,"s":"d9"},{"x":536,"y":7.6,"s":"d9"},{"x":535,"y":7.4,"s":"d9"},{"x":534,"y":8,"s":"d9"},{"x":533,"y":8.2,"s":"d9"},{"x":532,"y":9.1,"s":"d9"},{"x":531.5,"y":10.2,"s":"d9"},{"x":531,"y":11.7,"s":"d9"},{"x":530.5,"y":14,"s":"d9"},{"x":530,"y":16.8,"s":"d9"},{"x":529.5,"y":19.8,"s":"d9"},{"x":529.3,"y":21.1,"s":"d9"},{"x":528.8,"y":22.3,"s":"d9"},{"x":528.3,"y":21.1,"s":"d9"},{"x":527.8,"y":20.2,"s":"d9"},{"x":527.6,"y":23,"s":"d9"},{"x":527.4,"y":27.1,"s":"d9"},{"x":527,"y":39.1,"s":"d9"},{"x":526.6,"y":46.8,"s":"d9"},{"x":526.3,"y":44.3,"s":"d9"},{"x":526,"y":35.7,"s":"d9"},{"x":525.6,"y":22,"s":"d9"},{"x":525.3,"y":11.7,"s":"d9"},{"x":525,"y":7.4,"s":"d9"},{"x":524.5,"y":5.7,"s":"d9"},{"x":524,"y":6,"s":"d9"},{"x":523,"y":5.7,"s":"d9"},{"x":522,"y":6.2,"s":"d9"}
  ],
  "dv": [
    {"x":528.94,"y":74.3,"y2":10.8,"k":"k"},{"x":526.47,"y":52.8,"y2":4.8,"k":"k"},{"x":526.68,"y":80.3,"y2":46.8,"k":"b"}
  ],
  "dp": [
    {"x":525.66,"y":33.1,"x2":526.3,"y2":26.2}
  ],
  "dr": [
    {"x":526.47,"x2":526.78,"y":48.5,"d":"L","k":"k"}
  ],
  "dt": [
    {"x":536.1,"y":94.9,"t":"(d)","k":"p"},
    {"x":534.3,"y":68.3,"t":"Dandelion","k":"k"},
    {"x":534.2,"y":28.5,"t":"Plate","k":"k"},
    {"x":531.0,"y":91.4,"t":"O 1s","k":"b"},
    {"x":529.0,"y":87.6,"t":"H-O","k":"b"},
    {"x":529.3,"y":80.6,"t":"529.0 eV","k":"bm"},
    {"x":526.4,"y":90.9,"t":"Ti-O","k":"b"},
    {"x":526.3,"y":84,"t":"526.7 eV","k":"bm"},
    {"x":524.8,"y":36,"t":"526.6 eV","k":"k"},
    {"x":525.1,"y":48,"t":"~ 0.1 eV","k":"b"}
  ]
},
"spacing": 11,
"resolve": {"scale": {"color": "independent", "strokeWidth": "independent"}},
"vconcat": [
 {"spacing": 15,
  "resolve": {"scale": {"color": "independent", "strokeWidth": "independent"}},
  "hconcat": [
  {"width": 313, "height": 199,
   "layer": [
    {"data": {"name": "a"}, "mark": {"type": "line", "interpolate": "linear"},
     "encoding": {
      "x": {"field": "x", "type": "quantitative", "scale": {"domain": [0, 1000], "reverse": true, "nice": false, "zero": false},
            "axis": {"title": "Binding energy (eV)", "values": [0,200,400,600,800,1000,100,300,500,700,900], "labelOverlap": false, "labelExpr": "round(datum.value) % 200 == 0 ? format(datum.value, 'd') : ''", "tickSize": {"condition": {"test": "round(datum.value) % 200 == 0", "value": 4}, "value": 2.5}, "labelPadding": 2, "titlePadding": 2}},
      "y": {"field": "y", "type": "quantitative", "scale": {"domain": [0, 99], "nice": false, "zero": false}, "axis": {"title": "Intensity (a.u.)", "labels": false, "ticks": false, "titlePadding": 4}},
      "color": {"field": "s", "type": "nominal", "scale": {"domain": ["D", "P"], "range": ["#ff1a1a", "#1a1aff"]}, "legend": null},
      "strokeWidth": {"field": "s", "type": "nominal", "scale": {"domain": ["D", "P"], "range": [1.4, 1.4]}, "legend": null}
     }},
    {"data": {"name": "at"}, "transform": [{"filter": "datum.k == 'b'"}], "mark": {"type": "text", "color": "#1f1fe0", "fontSize": 13}, "encoding": {"x": {"field": "x", "type": "quantitative"}, "y": {"field": "y", "type": "quantitative"}, "text": {"field": "t"}}},
    {"data": {"name": "at"}, "transform": [{"filter": "datum.k == 'k'"}], "mark": {"type": "text", "color": "black", "fontSize": 12}, "encoding": {"x": {"field": "x", "type": "quantitative"}, "y": {"field": "y", "type": "quantitative"}, "text": {"field": "t"}}},
    {"data": {"name": "at"}, "transform": [{"filter": "datum.k == 'p'"}], "mark": {"type": "text", "color": "black", "fontSize": 14}, "encoding": {"x": {"field": "x", "type": "quantitative"}, "y": {"field": "y", "type": "quantitative"}, "text": {"field": "t"}}}
   ]},
  {"width": 305, "height": 199,
   "layer": [
    {"data": {"name": "b"}, "mark": {"type": "line", "interpolate": "monotone"},
     "encoding": {
      "x": {"field": "x", "type": "quantitative", "scale": {"domain": [825, 860], "reverse": true, "nice": false, "zero": false},
            "axis": {"title": "Binding energy (eV)", "values": [825,830,835,840,845,850,855,860,827.5,832.5,837.5,842.5,847.5,852.5,857.5], "labelOverlap": false, "labelExpr": "datum.value % 5 == 0 ? format(datum.value, 'd') : ''", "tickSize": {"condition": {"test": "datum.value % 5 == 0", "value": 4}, "value": 2.5}, "labelPadding": 2, "titlePadding": 2}},
      "y": {"field": "y", "type": "quantitative", "scale": {"domain": [0, 99], "nice": false, "zero": false}, "axis": {"title": "Intensity (a.u.)", "labels": false, "ticks": false, "titlePadding": 4}},
      "color": {"field": "s", "type": "nominal", "scale": {"domain": ["b1","b2","b3","b4","b5","b6","b7","b8","b9","bA","bB","bC"], "range": ["#9a9a2e","#ff33ff","#20a0a0","#2040ff","#ff2020","#000000","#1c2a9c","#7b3090","#8b1a1a","#9933ff","#2040ff","#ff2277"]}, "legend": null},
      "strokeWidth": {"field": "s", "type": "nominal", "scale": {"domain": ["b1","b2","b3","b4","b5","b6","b7","b8","b9","bA","bB","bC"], "range": [1.5,1.2,1.2,1.2,1.2,1.2,1.5,1.5,1.3,1.6,1.1,1.1]}, "legend": null}
     }},
    {"data": {"name": "bv"}, "mark": {"type": "rule", "color": "black", "strokeDash": [7, 2, 1.5, 2], "strokeWidth": 1}, "encoding": {"x": {"field": "x", "type": "quantitative"}, "y": {"field": "y", "type": "quantitative"}, "y2": {"field": "y2"}}},
    {"data": {"name": "br"}, "mark": {"type": "rule", "color": "black", "strokeWidth": 1}, "encoding": {"x": {"field": "x", "type": "quantitative"}, "x2": {"field": "x2"}, "y": {"field": "y", "type": "quantitative"}}},
    {"data": {"name": "br"}, "transform": [{"filter": "datum.d == 'L'"}], "mark": {"type": "point", "shape": "triangle-left", "filled": true, "size": 30, "color": "black", "opacity": 1}, "encoding": {"x": {"field": "x2", "type": "quantitative"}, "y": {"field": "y", "type": "quantitative"}}},
    {"data": {"name": "br"}, "transform": [{"filter": "datum.d == 'R'"}], "mark": {"type": "point", "shape": "triangle-right", "filled": true, "size": 30, "color": "black", "opacity": 1}, "encoding": {"x": {"field": "x2", "type": "quantitative"}, "y": {"field": "y", "type": "quantitative"}}},
    {"data": {"name": "bt"}, "transform": [{"filter": "datum.k == 'bl'"}], "mark": {"type": "text", "color": "#1f1fe0", "fontSize": 13, "align": "left"}, "encoding": {"x": {"field": "x", "type": "quantitative"}, "y": {"field": "y", "type": "quantitative"}, "text": {"field": "t"}}},
    {"data": {"name": "bt"}, "transform": [{"filter": "datum.k == 'bs'"}], "mark": {"type": "text", "color": "#1f1fe0", "fontSize": 9.5, "align": "left"}, "encoding": {"x": {"field": "x", "type": "quantitative"}, "y": {"field": "y", "type": "quantitative"}, "text": {"field": "t"}}},
    {"data": {"name": "bt"}, "transform": [{"filter": "datum.k == 'k'"}], "mark": {"type": "text", "color": "black", "fontSize": 12.5}, "encoding": {"x": {"field": "x", "type": "quantitative"}, "y": {"field": "y", "type": "quantitative"}, "text": {"field": "t"}}},
    {"data": {"name": "bt"}, "transform": [{"filter": "datum.k == 'p'"}], "mark": {"type": "text", "color": "black", "fontSize": 14}, "encoding": {"x": {"field": "x", "type": "quantitative"}, "y": {"field": "y", "type": "quantitative"}, "text": {"field": "t"}}}
   ]}
 ]},
 {"spacing": 10,
  "resolve": {"scale": {"color": "independent", "strokeWidth": "independent"}},
  "hconcat": [
  {"width": 312, "height": 198,
   "layer": [
    {"data": {"name": "tip"}, "mark": {"type": "line", "interpolate": "monotone"},
     "encoding": {
      "x": {"field": "x", "type": "quantitative", "scale": {"domain": [453, 466], "reverse": true, "nice": false, "zero": false},
            "axis": {"title": "Binding energy (eV)", "values": [454,456,458,460,462,464,466], "format": "d", "labelOverlap": false, "labels": true, "tickSize": 4, "labelPadding": 2, "titlePadding": 2, "zindex": 2}},
      "y": {"field": "y", "type": "quantitative", "scale": {"domain": [0, 100], "nice": false, "zero": false}, "axis": {"title": "Intensity (a.u.)", "labels": false, "ticks": false, "titlePadding": 4}},
      "color": {"field": "s", "type": "nominal", "scale": {"domain": ["c1","c2","c3","c4","c5","c6","c7","c8","c9","cA"], "range": ["#8f8f1f","#ff33ff","#1f5fff","#1f9a9a","#ff1f1f","#000000","#10107a","#1a1a9a","#8b0a0a","#ff8c00"]}, "legend": null},
      "strokeWidth": {"field": "s", "type": "nominal", "scale": {"domain": ["c1","c2","c3","c4","c5","c6","c7","c8","c9","cA"], "range": [1.5,1.3,2,1.5,1.5,1.2,2,1.5,1.2,2]}, "legend": null}
     }},
    {"data": {"name": "cv"}, "transform": [{"filter": "datum.k == 'b'"}], "mark": {"type": "rule", "color": "#3040ff", "strokeDash": [5, 3], "strokeWidth": 1.2}, "encoding": {"x": {"field": "x", "type": "quantitative"}, "y": {"field": "y", "type": "quantitative"}, "y2": {"field": "y2"}}},
    {"data": {"name": "cv"}, "transform": [{"filter": "datum.k == 'k'"}], "mark": {"type": "rule", "color": "black", "strokeDash": [7, 2, 1.5, 2], "strokeWidth": 1}, "encoding": {"x": {"field": "x", "type": "quantitative"}, "y": {"field": "y", "type": "quantitative"}, "y2": {"field": "y2"}}},
    {"data": {"name": "cp"}, "mark": {"type": "rule", "color": "black", "strokeDash": [4, 2, 1, 2], "strokeWidth": 0.8}, "encoding": {"x": {"field": "x", "type": "quantitative"}, "y": {"field": "y", "type": "quantitative"}, "x2": {"field": "x2"}, "y2": {"field": "y2"}}},
    {"data": {"name": "cr"}, "transform": [{"filter": "datum.k == 'b'"}], "mark": {"type": "rule", "color": "#3040ff", "strokeWidth": 1}, "encoding": {"x": {"field": "x", "type": "quantitative"}, "x2": {"field": "x2"}, "y": {"field": "y", "type": "quantitative"}}},
    {"data": {"name": "cr"}, "transform": [{"filter": "datum.k == 'k'"}], "mark": {"type": "rule", "color": "black", "strokeWidth": 1}, "encoding": {"x": {"field": "x", "type": "quantitative"}, "x2": {"field": "x2"}, "y": {"field": "y", "type": "quantitative"}}},
    {"data": {"name": "cr"}, "transform": [{"filter": "datum.k == 'b' && datum.d == 'L'"}], "mark": {"type": "point", "shape": "triangle-left", "filled": true, "size": 28, "color": "#3040ff", "opacity": 1}, "encoding": {"x": {"field": "x2", "type": "quantitative"}, "y": {"field": "y", "type": "quantitative"}}},
    {"data": {"name": "cr"}, "transform": [{"filter": "datum.k == 'b' && datum.d == 'R'"}], "mark": {"type": "point", "shape": "triangle-right", "filled": true, "size": 28, "color": "#3040ff", "opacity": 1}, "encoding": {"x": {"field": "x2", "type": "quantitative"}, "y": {"field": "y", "type": "quantitative"}}},
    {"data": {"name": "cr"}, "transform": [{"filter": "datum.k == 'k' && datum.d == 'L'"}], "mark": {"type": "point", "shape": "triangle-left", "filled": true, "size": 28, "color": "black", "opacity": 1}, "encoding": {"x": {"field": "x2", "type": "quantitative"}, "y": {"field": "y", "type": "quantitative"}}},
    {"data": {"name": "cr"}, "transform": [{"filter": "datum.k == 'k' && datum.d == 'R'"}], "mark": {"type": "point", "shape": "triangle-right", "filled": true, "size": 28, "color": "black", "opacity": 1}, "encoding": {"x": {"field": "x2", "type": "quantitative"}, "y": {"field": "y", "type": "quantitative"}}},
    {"data": {"name": "ct"}, "transform": [{"filter": "datum.k == 'b'"}], "mark": {"type": "text", "color": "#1f1fe0", "fontSize": 12.5}, "encoding": {"x": {"field": "x", "type": "quantitative"}, "y": {"field": "y", "type": "quantitative"}, "text": {"field": "t"}}},
    {"data": {"name": "ct"}, "transform": [{"filter": "datum.k == 'bl'"}], "mark": {"type": "text", "color": "#1f1fe0", "fontSize": 13, "align": "left"}, "encoding": {"x": {"field": "x", "type": "quantitative"}, "y": {"field": "y", "type": "quantitative"}, "text": {"field": "t"}}},
    {"data": {"name": "ct"}, "transform": [{"filter": "datum.k == 'bs'"}], "mark": {"type": "text", "color": "#1f1fe0", "fontSize": 9.5, "align": "left"}, "encoding": {"x": {"field": "x", "type": "quantitative"}, "y": {"field": "y", "type": "quantitative"}, "text": {"field": "t"}}},
    {"data": {"name": "ct"}, "transform": [{"filter": "datum.k == 'k'"}], "mark": {"type": "text", "color": "black", "fontSize": 12.5}, "encoding": {"x": {"field": "x", "type": "quantitative"}, "y": {"field": "y", "type": "quantitative"}, "text": {"field": "t"}}},
    {"data": {"name": "ct"}, "transform": [{"filter": "datum.k == 'p'"}], "mark": {"type": "text", "color": "black", "fontSize": 14}, "encoding": {"x": {"field": "x", "type": "quantitative"}, "y": {"field": "y", "type": "quantitative"}, "text": {"field": "t"}}}
   ]},
  {"width": 307, "height": 198,
   "layer": [
    {"data": {"name": "d"}, "mark": {"type": "line", "interpolate": "monotone"},
     "encoding": {
      "x": {"field": "x", "type": "quantitative", "scale": {"domain": [522, 537], "reverse": true, "nice": false, "zero": false},
            "axis": {"title": "Binding energy (eV)", "values": [522,524,526,528,530,532,534,536,523,525,527,529,531,533,535,537], "labelOverlap": false, "labelExpr": "round(datum.value) % 2 == 0 ? format(datum.value, 'd') : ''", "tickSize": {"condition": {"test": "round(datum.value) % 2 == 0", "value": 4}, "value": 2.5}, "labelPadding": 2, "titlePadding": 2}},
      "y": {"field": "y", "type": "quantitative", "scale": {"domain": [0, 100], "nice": false, "zero": false}, "axis": {"title": "Intensity (a.u.)", "labels": false, "ticks": false, "titlePadding": 4}},
      "color": {"field": "s", "type": "nominal", "scale": {"domain": ["d1","d2","d3","d4","d5","d6","d7","d8","d9"], "range": ["#1f8080","#2030ff","#ff1010","#000000","#ff22ff","#1f8a1f","#ff3399","#7a0a0a","#10108a"]}, "legend": null},
      "strokeWidth": {"field": "s", "type": "nominal", "scale": {"domain": ["d1","d2","d3","d4","d5","d6","d7","d8","d9"], "range": [1.5,1.3,1.5,1.2,1.6,1.5,1.3,1.5,2]}, "legend": null}
     }},
    {"data": {"name": "dv"}, "transform": [{"filter": "datum.k == 'b'"}], "mark": {"type": "rule", "color": "#3040ff", "strokeDash": [5, 3], "strokeWidth": 1.2}, "encoding": {"x": {"field": "x", "type": "quantitative"}, "y": {"field": "y", "type": "quantitative"}, "y2": {"field": "y2"}}},
    {"data": {"name": "dv"}, "transform": [{"filter": "datum.k == 'k'"}], "mark": {"type": "rule", "color": "black", "strokeDash": [7, 2, 1.5, 2], "strokeWidth": 1}, "encoding": {"x": {"field": "x", "type": "quantitative"}, "y": {"field": "y", "type": "quantitative"}, "y2": {"field": "y2"}}},
    {"data": {"name": "dp"}, "mark": {"type": "rule", "color": "black", "strokeDash": [4, 2, 1, 2], "strokeWidth": 0.8}, "encoding": {"x": {"field": "x", "type": "quantitative"}, "y": {"field": "y", "type": "quantitative"}, "x2": {"field": "x2"}, "y2": {"field": "y2"}}},
    {"data": {"name": "dr"}, "mark": {"type": "rule", "color": "black", "strokeWidth": 1}, "encoding": {"x": {"field": "x", "type": "quantitative"}, "x2": {"field": "x2"}, "y": {"field": "y", "type": "quantitative"}}},
    {"data": {"name": "dr"}, "mark": {"type": "point", "shape": "triangle-left", "filled": true, "size": 28, "color": "black", "opacity": 1}, "encoding": {"x": {"field": "x2", "type": "quantitative"}, "y": {"field": "y", "type": "quantitative"}}},
    {"data": {"name": "dt"}, "transform": [{"filter": "datum.k == 'b'"}], "mark": {"type": "text", "color": "#1f1fe0", "fontSize": 13.5}, "encoding": {"x": {"field": "x", "type": "quantitative"}, "y": {"field": "y", "type": "quantitative"}, "text": {"field": "t"}}},
    {"data": {"name": "dt"}, "transform": [{"filter": "datum.k == 'bm'"}], "mark": {"type": "text", "color": "#1f1fe0", "fontSize": 11.5}, "encoding": {"x": {"field": "x", "type": "quantitative"}, "y": {"field": "y", "type": "quantitative"}, "text": {"field": "t"}}},
    {"data": {"name": "dt"}, "transform": [{"filter": "datum.k == 'k'"}], "mark": {"type": "text", "color": "black", "fontSize": 12.5}, "encoding": {"x": {"field": "x", "type": "quantitative"}, "y": {"field": "y", "type": "quantitative"}, "text": {"field": "t"}}},
    {"data": {"name": "dt"}, "transform": [{"filter": "datum.k == 'p'"}], "mark": {"type": "text", "color": "black", "fontSize": 14}, "encoding": {"x": {"field": "x", "type": "quantitative"}, "y": {"field": "y", "type": "quantitative"}, "text": {"field": "t"}}}
   ]}
 ]}
]
}
